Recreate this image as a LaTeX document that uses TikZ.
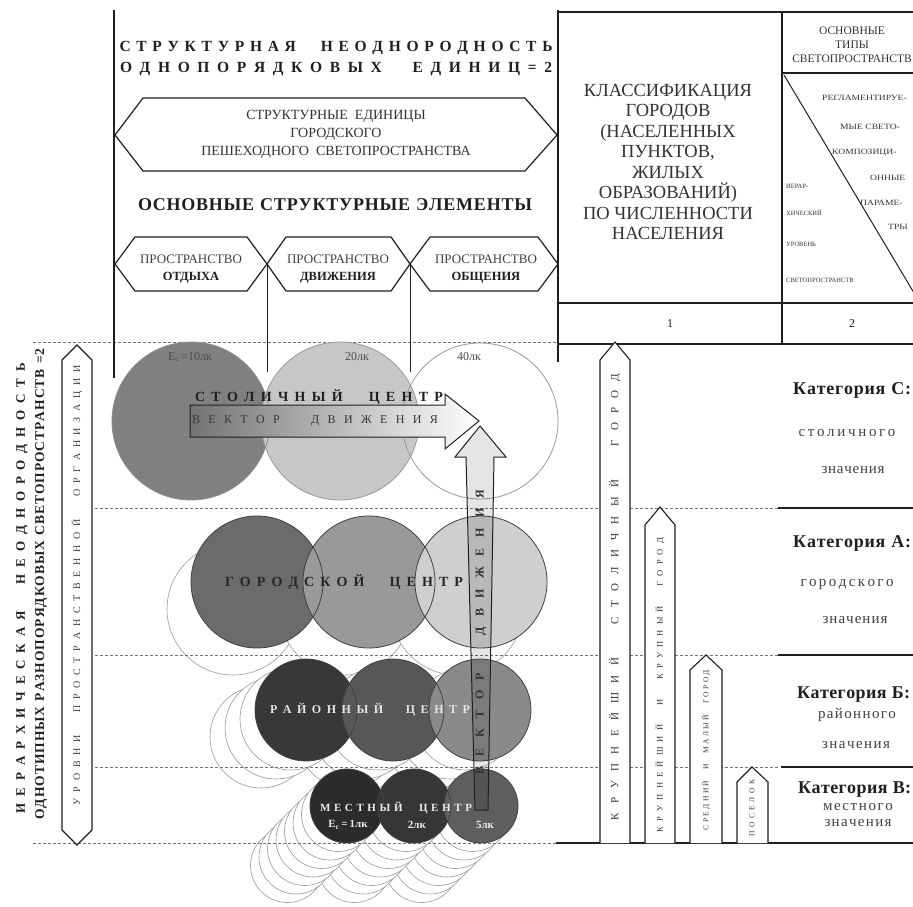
\documentclass[tikz,border=0pt]{standalone}
\usepackage{fontspec}
\setmainfont{Liberation Serif}
\ExplSyntaxOn
\NewDocumentCommand\spreadto{mm}{\hbox~to~#1{\tl_map_inline:nn{#2}{##1\hfil}\unskip}}
\ExplSyntaxOff
\newcommand\fsz[1]{\fontsize{#1}{#1}\selectfont}
\definecolor{ink}{gray}{0.12}
\definecolor{rIa}{gray}{0.50}
\definecolor{rIb}{gray}{0.78}
\definecolor{rIIa}{gray}{0.42}
\definecolor{rIIb}{gray}{0.60}
\definecolor{rIIc}{gray}{0.81}
\definecolor{rIIIa}{gray}{0.22}
\definecolor{rIIIb}{gray}{0.34}
\definecolor{rIIIc}{gray}{0.54}
\definecolor{rIVa}{gray}{0.17}
\definecolor{rIVb}{gray}{0.21}
\definecolor{rIVc}{gray}{0.37}
\begin{document}
\begin{tikzpicture}[x=1pt,y=-1pt,
  every node/.style={inner sep=0pt, text=ink},
  frame/.style={draw=ink, line width=2.2pt},
  thinline/.style={draw=ink, line width=1.2pt},
  ghost/.style={draw=black!40, fill=white, line width=0.6pt},
  level/.style={draw=black!55, line width=0.8pt, dash pattern=on 2.5pt off 2.5pt},
  catline/.style={draw=ink, line width=1.6pt},
  ring/.style={draw=black!75, line width=0.8pt},
  citybox/.style={draw=ink, line width=1.1pt, fill=white},
]
\useasboundingbox (0,0) rectangle (913,907);
\fill[white] (0,0) rectangle (913,907);

% ---------- ghost circles ----------
\foreach \cx in {257,369,481} \draw[ghost] (\cx-24,609) circle[radius=66pt];
\foreach \k in {3,2,1} \foreach \cx in {306,393,480} \draw[ghost] (\cx-15*\k,710+9*\k) circle[radius=51pt];
\foreach \k in {7,6,5,4,3,2,1} \foreach \cx in {347,414,481} \draw[ghost] (\cx-8.5*\k,806+8.5*\k) circle[radius=37pt];

% ---------- level lines ----------
\draw[level] (33,342) -- (556,342);
\draw[level] (95,508) -- (778,508);
\draw[level] (95,655) -- (778,655);
\draw[level] (95,767) -- (778,767);
\draw[level] (33,843) -- (556,843);

% ---------- main circles ----------
\fill[rIa] (191,421) circle[radius=79pt];
\fill[rIb] (340,421) circle[radius=79pt];
\draw[black!45, line width=0.8pt] (191,421) circle[radius=79pt];
\draw[black!40, line width=0.8pt] (340,421) circle[radius=79pt];
\draw[black!40, line width=0.8pt] (480,421) circle[radius=78pt];

\fill[rIIa] (257,582) circle[radius=66pt];
\fill[rIIb] (369,582) circle[radius=66pt];
\fill[rIIc] (481,582) circle[radius=66pt];
\foreach \cx in {257,369,481} \draw[ring] (\cx,582) circle[radius=66pt];

\fill[rIIIa] (306,710) circle[radius=51pt];
\fill[rIIIb] (393,710) circle[radius=51pt];
\fill[rIIIc] (480,710) circle[radius=51pt];
\foreach \cx in {306,393,480} \draw[ring] (\cx,710) circle[radius=51pt];

\fill[rIVa] (347,806) circle[radius=37pt];
\fill[rIVb] (414,806) circle[radius=37pt];
\fill[rIVc] (481,806) circle[radius=37pt];
\foreach \cx in {347,414,481} \draw[ring] (\cx,806) circle[radius=37pt];

% ---------- arrows ----------
\shadedraw[left color=black!55, right color=white, draw=ink, line width=1pt]
  (190,405) -- (445,405) -- (445,394) -- (479,421) -- (445,449) -- (445,437) -- (190,437) -- cycle;
\filldraw[fill=black, fill opacity=0.1, draw=ink, line width=1pt]
  (475,810) -- (488,810) -- (494,457) -- (506,457) -- (480,426) -- (455,457) -- (466,457) -- cycle;

% ---------- circle texts ----------
\node[font=\fsz{12}, text=black!70] (lxa) at (190,357) {Е\textsubscript{с}\,=10лк};
\node[font=\fsz{12}, text=black!70] (lxb) at (357,357) {20лк};
\node[font=\fsz{12}, text=black!70] (lxc) at (469,357) {40лк};
\node[font=\bfseries\fsz{14}] (capc) at (319,397) {\spreadto{248pt}{СТОЛИЧНЫЙ\ \ ЦЕНТР}};
\node[font=\fsz{12}, text=black!78] (vech) at (315,421) {\spreadto{246pt}{ВЕКТОР\ \ ДВИЖЕНИЯ}};
\node[font=\bfseries\fsz{14}, text=black!85] (cityc) at (344,582) {\spreadto{238pt}{ГОРОДСКОЙ\ \ ЦЕНТР}};
\node[font=\bfseries\fsz{12}, text=white!90!black] (distc) at (370,710) {\spreadto{200pt}{РАЙОННЫЙ\ \ ЦЕНТР}};
\node[font=\bfseries\fsz{11}, text=white!92!black] (locc) at (396,808) {\spreadto{152pt}{МЕСТНЫЙ\ \ ЦЕНТР}};
\node[font=\bfseries\fsz{11}, text=white!92!black] (lxd) at (348,825) {Е\textsubscript{с}\,=\,1лк};
\node[font=\bfseries\fsz{11}, text=white!92!black] (lxe) at (417,825) {2лк};
\node[font=\bfseries\fsz{11}, text=white!92!black] (lxf) at (485,825) {5лк};
\node[rotate=90, font=\bfseries\fsz{12}, text=black!80] (vecv) at (481,632) {\spreadto{285pt}{ВЕКТОР\ \ ДВИЖЕНИЯ}};

% ---------- top-left block ----------
\draw[frame] (114,10) -- (114,378);
\draw[frame] (558,10) -- (558,362);
\node[font=\bfseries\fsz{15.5}] (ttl1) at (336,48) {\spreadto{433pt}{СТРУКТУРНАЯ\ \ НЕОДНОРОДНОСТЬ}};
\node[font=\bfseries\fsz{15.5}] (ttl2) at (336,69) {\spreadto{432pt}{ОДНОПОРЯДКОВЫХ\ \ ЕДИНИЦ=2}};
\draw[thinline] (115,135) -- (143,98) -- (525,98) -- (557,135) -- (525,171) -- (143,171) -- cycle;
\node[align=center, font=\fontsize{14}{18}\selectfont, text=black!80] (units) at (336,134)
  {СТРУКТУРНЫЕ\ \ ЕДИНИЦЫ\\ГОРОДСКОГО\\ПЕШЕХОДНОГО\ \ СВЕТОПРОСТРАНСТВА};
\node[font=\bfseries\fsz{18}] (elems) at (335,205) {\spreadto{394pt}{ОСНОВНЫЕ\ СТРУКТУРНЫЕ\ ЭЛЕМЕНТЫ}};
\draw[thinline] (115,264) -- (135,237) -- (247,237) -- (267,264) -- (247,291) -- (135,291) -- cycle;
\draw[thinline] (267,264) -- (286,237) -- (391,237) -- (410,264) -- (391,291) -- (286,291) -- cycle;
\draw[thinline] (410,264) -- (430,237) -- (538,237) -- (558,264) -- (538,291) -- (430,291) -- cycle;
\node[font=\fsz{13}, text=black!75] (sp1) at (191,259) {ПРОСТРАНСТВО};
\node[font=\bfseries\fsz{12.5}] (sp1b) at (191,278) {ОТДЫХА};
\node[font=\fsz{13}, text=black!75] (sp2) at (338,259) {ПРОСТРАНСТВО};
\node[font=\bfseries\fsz{12.5}] (sp2b) at (338,278) {ДВИЖЕНИЯ};
\node[font=\fsz{13}, text=black!75] (sp3) at (486,259) {ПРОСТРАНСТВО};
\node[font=\bfseries\fsz{12.5}] (sp3b) at (486,278) {ОБЩЕНИЯ};
\draw[line width=0.9pt, ink] (267,264) -- (267,372);
\draw[line width=0.9pt, ink] (410,264) -- (410,372);

% ---------- left vertical block ----------
\draw[thinline, fill=white] (62,360) -- (77,345) -- (92,360) -- (92,830) -- (77,845) -- (62,830) -- cycle;
\node[rotate=90, font=\fsz{10}, text=black!75] (lev) at (77,585) {\spreadto{440pt}{УРОВНИ\ \ ПРОСТРАНСТВЕННОЙ\ \ ОРГАНИЗАЦИИ}};
\node[rotate=90, font=\bfseries\fsz{13}] (hier1) at (22,588) {\spreadto{450pt}{ИЕРАРХИЧЕСКАЯ\ \ НЕОДНОРОДНОСТЬ}};
\node[rotate=90, font=\bfseries\fsz{13.5}] (hier2) at (41,584) {\spreadto{471pt}{ОДНОТИПНЫХ\ РАЗНОПОРЯДКОВЫХ\ СВЕТОПРОСТРАНСТВ\ =2}};

% ---------- right part ----------
\begin{scope}
\clip (0,0) rectangle (913,907);
\draw[frame] (558,12) -- (920,12);
\draw[frame] (782,12) -- (782,344);
\draw[frame] (782,73) -- (920,73);
\draw[frame] (558,303) -- (920,303);
\draw[frame] (558,344) -- (920,344);
\draw[line width=1pt, ink] (784,75) -- (920,303);
\node[align=center, font=\fontsize{18.5}{20.5}\selectfont, text=black!80] (cls) at (668,162)
  {КЛАССИФИКАЦИЯ\\ГОРОДОВ\\(НАСЕЛЕННЫХ\\ПУНКТОВ,\\ЖИЛЫХ\\ОБРАЗОВАНИЙ)\\ПО\ ЧИСЛЕННОСТИ\\НАСЕЛЕНИЯ};
\node[align=center, font=\fontsize{11.5}{14}\selectfont, text=black!80] (types) at (852,45)
  {ОСНОВНЫЕ\\ТИПЫ\\СВЕТОПРОСТРАНСТВ};
\node[font=\fsz{12}] (n1) at (670,324) {1};
\node[font=\fsz{12}] (n2) at (852,324) {2};
\foreach \t/\xx/\yy in {РЕГЛАМЕНТИРУЕ-/822/98, МЫЕ\ СВЕТО-/840/127, КОМПОЗИЦИ-/832/153, ОННЫЕ/870/178, ПАРАМЕ-/860/203, ТРЫ/888/227}
  \node[anchor=west, font=\fsz{8}, text=black!80] at (\xx,\yy) {\scalebox{1.2}[1]{\t}};
\foreach \t/\yy in {ИЕРАР-/186, ХИЧЕСКИЙ/213, УРОВЕНЬ/244, СВЕТОПРОСТРАНСТВ/280}
  \node[anchor=west, font=\fsz{6.5}, text=black!80] at (786,\yy) {\t};

\draw[catline] (778,508) -- (913,508);
\draw[catline] (778,655) -- (913,655);
\draw[catline] (781,767) -- (913,767);
\draw[frame] (556,843) -- (913,843);

\node[anchor=west, font=\bfseries\fsz{18}] (catC) at (793,390) {\spreadto{118pt}{Категория\ С:}};
\node[font=\fsz{15}, text=black!75] (catCa) at (847,433) {\spreadto{97pt}{столичного}};
\node[font=\fsz{15}, text=black!75] (catCb) at (853,470) {\spreadto{63pt}{значения}};
\node[anchor=west, font=\bfseries\fsz{18}] (catA) at (793,543) {\spreadto{118pt}{Категория\ А:}};
\node[font=\fsz{15}, text=black!75] (catAa) at (847,585) {\spreadto{93pt}{городского}};
\node[font=\fsz{15}, text=black!75] (catAb) at (855,620) {\spreadto{65pt}{значения}};
\node[anchor=west, font=\bfseries\fsz{18}] (catB) at (797,695) {\spreadto{113pt}{Категория\ Б:}};
\node[font=\fsz{15}, text=black!75] (catBa) at (857,715) {\spreadto{78pt}{районного}};
\node[font=\fsz{15}, text=black!75] (catBb) at (856,745) {\spreadto{68pt}{значения}};
\node[anchor=west, font=\bfseries\fsz{18}] (catV) at (798,790) {\spreadto{113pt}{Категория\ В:}};
\node[font=\fsz{15}, text=black!75] (catVa) at (858,807) {\spreadto{70pt}{местного}};
\node[font=\fsz{15}, text=black!75] (catVb) at (858,823) {\spreadto{67pt}{значения}};
\end{scope}

% city-size bars
\draw[citybox] (600,843) -- (600,360) -- (615,342) -- (630,360) -- (630,843);
\draw[citybox] (645,843) -- (645,525) -- (660,507) -- (675,525) -- (675,843);
\draw[citybox] (690,843) -- (690,670) -- (706,655) -- (722,670) -- (722,843);
\draw[citybox] (737,843) -- (737,782) -- (752,767) -- (768,782) -- (768,843);
\node[rotate=90, font=\fsz{11}, text=black!80] (bar1) at (615,597) {\spreadto{447pt}{КРУПНЕЙШИЙ\ \ СТОЛИЧНЫЙ\ \ ГОРОД}};
\node[rotate=90, font=\fsz{8.5}, text=black!80] (bar2) at (660,685) {\spreadto{294pt}{КРУПНЕЙШИЙ\ \ И\ \ КРУПНЫЙ\ \ ГОРОД}};
\node[rotate=90, font=\fsz{7.5}, text=black!80] (bar3) at (706,750) {\spreadto{160pt}{СРЕДНИЙ\ \ И\ \ МАЛЫЙ\ \ ГОРОД}};
\node[rotate=90, font=\fsz{7.5}, text=black!80] (bar4) at (752,808) {\spreadto{57pt}{ПОСЕЛОК}};
\end{tikzpicture}
\end{document}
